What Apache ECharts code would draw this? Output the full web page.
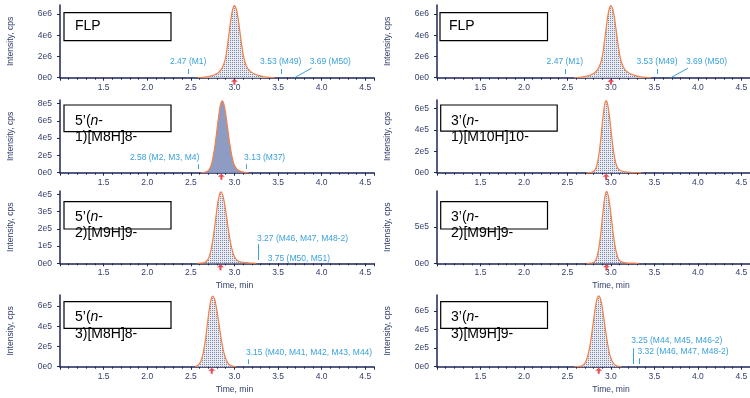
<!DOCTYPE html>
<html>
<head>
<meta charset="utf-8">
<script src="https://cdn.jsdelivr.net/npm/echarts@6/dist/echarts.min.js"></script>
<style>
html, body { margin: 0; padding: 0; background: #fff; }
#chart { width: 750px; height: 398px; }
</style>
</head>
<body>
<div id="chart"></div>
<script>
// time axis, min
var timeMin = 1.0, timeMax = 4.6, timeStep = 0.5;

// FLP (same trace in both top panels)
var flpTime = [2.58, 2.64, 2.70, 2.75, 2.79, 2.82, 2.84, 2.86, 2.88, 2.90, 2.92, 2.94, 2.96, 2.98, 3.00,
    3.02, 3.04, 3.06, 3.08, 3.10, 3.12, 3.14, 3.16, 3.19, 3.23, 3.28, 3.34, 3.40, 3.46];
var flpInt = [0, 0.04e6, 0.10e6, 0.20e6, 0.35e6, 0.52e6, 0.70e6, 0.95e6, 1.35e6, 1.95e6, 3.05e6, 4.30e6, 5.55e6, 6.45e6, 6.80e6,
    6.50e6, 5.70e6, 4.50e6, 3.25e6, 2.20e6, 1.50e6, 1.05e6, 0.78e6, 0.55e6, 0.35e6, 0.20e6, 0.09e6, 0.03e6, 0];

// 5'(n-1)[M8H]8-
var n1m5Time = [2.62, 2.66, 2.70, 2.72, 2.74, 2.76, 2.78, 2.80, 2.82, 2.84, 2.86, 2.88, 2.90, 2.92, 2.94,
    2.96, 2.98, 3.00, 3.03, 3.07, 3.12, 3.16];
var n1m5Int = [0, 0.05e5, 0.24e5, 0.55e5, 1.1e5, 2.1e5, 3.4e5, 5.0e5, 6.6e5, 7.85e5, 8.3e5, 7.9e5, 6.8e5, 5.3e5, 3.8e5,
    2.5e5, 1.5e5, 0.85e5, 0.4e5, 0.15e5, 0.04e5, 0];

// 5'(n-2)[M9H]9-
var n2m5Time = [2.58, 2.64, 2.68, 2.71, 2.74, 2.77, 2.79, 2.81, 2.83, 2.845, 2.86, 2.88, 2.90, 2.92, 2.94,
    2.97, 3.00, 3.04, 3.09, 3.16, 3.25];
var n2m5Int = [0, 0.02e5, 0.12e5, 0.39e5, 0.99e5, 2.0e5, 2.8e5, 3.54e5, 4.03e5, 4.15e5, 4.05e5, 3.66e5, 3.05e5, 2.34e5, 1.65e5,
    0.85e5, 0.38e5, 0.14e5, 0.06e5, 0.03e5, 0];

// 5'(n-3)[M8H]8-
var n3m5Time = [2.55, 2.57, 2.59, 2.61, 2.63, 2.65, 2.67, 2.69, 2.71, 2.73, 2.75, 2.77, 2.79, 2.81, 2.83,
    2.85, 2.87, 2.89, 2.92, 2.95, 2.99, 3.02];
var n3m5Int = [0, 0.08e5, 0.2e5, 0.46e5, 0.95e5, 1.75e5, 2.85e5, 4.25e5, 5.6e5, 6.6e5, 7.0e5, 6.75e5, 6.0e5, 4.95e5, 3.8e5,
    2.65e5, 1.75e5, 1.05e5, 0.43e5, 0.15e5, 0.03e5, 0];

// 3'(n-1)[M10H]10-
var n1m3Time = [2.72, 2.78, 2.81, 2.83, 2.85, 2.87, 2.89, 2.91, 2.93, 2.945, 2.96, 2.98, 3.00, 3.02, 3.04,
    3.06, 3.08, 3.11, 3.16, 3.24, 3.35];
var n1m3Int = [0, 0.03e5, 0.18e5, 0.48e5, 1.11e5, 2.19e5, 3.69e5, 5.29e5, 6.45e5, 6.75e5, 6.5e5, 5.51e5, 4.1e5, 2.67e5, 1.52e5,
    0.8e5, 0.4e5, 0.2e5, 0.08e5, 0.02e5, 0];

// 3'(n-2)[M9H]9-
var n2m3Time = [2.72, 2.78, 2.81, 2.83, 2.85, 2.87, 2.89, 2.91, 2.93, 2.95, 2.97, 2.99, 3.01, 3.03, 3.05,
    3.07, 3.09, 3.12, 3.17, 3.24, 3.32];
var n2m3Int = [0, 0.04e5, 0.2e5, 0.55e5, 1.35e5, 2.8e5, 4.8e5, 7.2e5, 9.1e5, 9.9e5, 9.3e5, 7.8e5, 5.8e5, 3.8e5, 2.25e5,
    1.15e5, 0.55e5, 0.2e5, 0.07e5, 0.02e5, 0];

// 3'(n-3)[M9H]9-
var n3m3Time = [2.58, 2.63, 2.67, 2.70, 2.72, 2.74, 2.76, 2.78, 2.80, 2.82, 2.84, 2.86, 2.88, 2.90, 2.92,
    2.94, 2.96, 2.98, 3.00, 3.02, 3.05, 3.09, 3.12];
var n3m3Int = [0, 0.02e5, 0.1e5, 0.35e5, 0.75e5, 1.4e5, 2.3e5, 3.55e5, 4.95e5, 6.3e5, 7.25e5, 7.6e5, 7.3e5, 6.4e5, 5.15e5,
    3.8e5, 2.6e5, 1.6e5, 0.95e5, 0.5e5, 0.16e5, 0.03e5, 0];

// panel order: left column top to bottom, then right column
var traceTimes = [flpTime, n1m5Time, n2m5Time, n3m5Time, flpTime, n1m3Time, n2m3Time, n3m3Time];
var traceInts = [flpInt, n1m5Int, n2m5Int, n3m5Int, flpInt, n1m3Int, n2m3Int, n3m3Int];
var apexTimes = [3.00, 2.85, 2.84, 2.74, 3.00, 2.945, 2.95, 2.86];
var yMax = [6.85e6, 8.4e5, 4.2e5, 7.1e5, 6.85e6, 6.8e5, 9.95e5, 7.7e5];
var yStep = [2e6, 2e5, 1e5, 2e5, 2e6, 2e5, 5e5, 2e5];
var panelNames = [
    'FLP',
    '5\u2019({i|n}-\n1)[M8H]8-',
    '5\u2019({i|n}-\n2)[M9H]9-',
    '5\u2019({i|n}-\n3)[M8H]8-',
    'FLP',
    '3\u2019({i|n}-\n1)[M10H]10-',
    '3\u2019({i|n}-\n2)[M9H]9-',
    '3\u2019({i|n}-\n3)[M9H]9-'
];
var noteTimes = [[2.47, 3.53, 3.69], [2.58, 3.13], [3.27, 3.75], [3.15], [2.47, 3.53, 3.69], [], [], [3.25, 3.32]];
var noteLabels = [
    ['2.47 (M1)', '3.53 (M49)', '3.69 (M50)'],
    ['2.58 (M2, M3, M4)', '3.13 (M37)'],
    ['3.27 (M46, M47, M48-2)', '3.75 (M50, M51)'],
    ['3.15 (M40, M41, M42, M43, M44)'],
    ['2.47 (M1)', '3.53 (M49)', '3.69 (M50)'],
    [], [],
    ['3.25 (M44, M45, M46-2)', '3.32 (M46, M47, M48-2)']
];

// layout
var colLeft = [60, 437], colWidth = [314, 313];
var rowTop = [5, 100, 191, 295], rowHeight = [72.7, 72.7, 72.3, 71.7];
var boxRect = [[64, 12.7, 107, 28], [64, 105, 107, 26.7], [64, 201.7, 107, 27.3], [64, 301.7, 107, 26.7],
    [440, 12.7, 107.5, 28], [440.7, 105, 116.5, 26.2], [440.7, 201.7, 106.8, 27.3], [440.7, 301.7, 106.8, 26.7]];
var boxText = [[75, 26.5], [75, 121], [75, 216.7], [75, 317.3], [449, 26.5], [451, 121], [451, 216.7], [451, 317.3]];
var tickNote = {tick: 5, gap: 3.7, dx: 0, dy: -16, align: 'center'};
var noteStyle = [
    [tickNote, tickNote, {tick: 0, leader: [17, -9.5], dx: 15, dy: -16, align: 'left'}],
    [{tick: 4.7, gap: 3.7, dx: 1.5, dy: -15.4, align: 'right'}, {tick: 4.7, gap: 3.7, dx: -1.7, dy: -15.4, align: 'left'}],
    [{tick: 16, gap: 3.3, dx: -1, dy: -25, align: 'left'}, {tick: 0, dx: -1, dy: -5, align: 'center'}],
    [{tick: 4.7, gap: 2.7, dx: -1.5, dy: -14.4, align: 'left'}],
    [tickNote, tickNote, {tick: 0, leader: [17, -9.5], dx: 15, dy: -16, align: 'left'}],
    [], [],
    [{tick: 15.7, gap: 2.7, dx: -1.5, dy: -25.7, align: 'left'}, {tick: 5.7, gap: 2.7, dx: -1.3, dy: -15, align: 'left'}]
];

var axisColor = '#1c2557';
var labelColor = '#34406c';
var noteColor = '#3aa1da';
var peakColor = '#f2814a';
var fontFam = '"Liberation Sans", Arial, sans-serif';

// dotted fill like the instrument software
var pc = document.createElement('canvas');
pc.width = 2; pc.height = 2;
var pctx = pc.getContext('2d');
pctx.fillStyle = '#e8eaf1';
pctx.fillRect(0, 0, 2, 2);
pctx.fillStyle = '#7d87a6';
pctx.fillRect(0, 0, 1, 1);
var dotFill = {image: pc, repeat: 'repeat'};

function sci(v) {
    if (v === 0) return '0e0';
    var e = Math.floor(Math.log10(v) + 1e-9);
    var m = Math.round(v / Math.pow(10, e) * 10) / 10;
    return m + 'e' + e;
}

function noteRender(idx) {
    return function (params, api) {
        var p = api.coord([api.value(0), 0]);
        var s = noteStyle[idx][params.dataIndex];
        var x = Math.round(p[0]) + 0.5;
        var kids = [];
        if (s.tick) {
            kids.push({type: 'line', shape: {x1: x, y1: p[1] - s.gap, x2: x, y2: p[1] - s.gap - s.tick},
                style: {stroke: noteColor, lineWidth: 1}});
        }
        if (s.leader) {
            kids.push({type: 'line', shape: {x1: p[0], y1: p[1], x2: p[0] + s.leader[0], y2: p[1] + s.leader[1]},
                style: {stroke: noteColor, lineWidth: 1}});
        }
        kids.push({type: 'text', x: p[0] + s.dx, y: p[1] + s.dy,
            style: {text: noteLabels[idx][params.dataIndex], fill: noteColor, fontSize: 8.5, fontFamily: fontFam,
                align: s.align, verticalAlign: 'middle'}});
        return {type: 'group', children: kids};
    };
}

var grids = [], xAxes = [], yAxes = [], series = [], graphics = [];
for (var i = 0; i < 8; i++) {
    var col = Math.floor(i / 4), row = i % 4;
    grids.push({left: colLeft[col], top: rowTop[row], width: colWidth[col], height: rowHeight[row],
        containLabel: false, outerBoundsMode: 'none'});
    xAxes.push({
        type: 'value', gridIndex: i, min: timeMin, max: timeMax, interval: timeStep,
        axisLine: {onZero: false, lineStyle: {color: axisColor, width: 1.5}},
        axisTick: {length: 3, lineStyle: {color: axisColor}},
        minorTick: {show: true, splitNumber: 5, length: 2, lineStyle: {color: axisColor}},
        splitLine: {show: false},
        axisLabel: {margin: 5, fontSize: 8.5, fontFamily: fontFam, color: labelColor,
            showMinLabel: false, showMaxLabel: false,
            formatter: function (v) { return v.toFixed(1); }},
        name: row >= 2 ? 'Time, min' : '', nameLocation: 'middle', nameGap: 18,
        nameTextStyle: {fontSize: 8.6, fontFamily: fontFam, color: labelColor, padding: [0, 0, 0, 35]}
    });
    yAxes.push({
        type: 'value', gridIndex: i, min: 0, max: yMax[i], interval: yStep[i],
        axisLine: {show: true, lineStyle: {color: axisColor, width: 1.5}},
        axisTick: {show: true, length: 3, lineStyle: {color: axisColor}},
        splitLine: {show: false},
        axisLabel: {margin: 8, fontSize: 8.5, fontFamily: fontFam, color: labelColor,
            showMaxLabel: false, formatter: sci},
        name: 'Intensity, cps', nameLocation: 'middle', nameGap: 45, nameRotate: 90,
        nameTextStyle: {fontSize: 8.6, fontFamily: fontFam, color: labelColor}
    });

    var pts = traceTimes[i].map(function (t, k) { return [t, traceInts[i][k]]; });
    series.push({
        type: 'line', xAxisIndex: i, yAxisIndex: i, data: pts, smooth: 0.3,
        showSymbol: false, symbol: 'none', silent: true,
        lineStyle: {color: peakColor, width: 1.2},
        areaStyle: {color: i === 1 ? '#8e9cc3' : dotFill, opacity: 1}
    });
    series.push({
        type: 'scatter', xAxisIndex: i, yAxisIndex: i, data: [[apexTimes[i], 0]],
        symbol: 'path://M5,0 L10,5 L6.5,5 L6.5,10 L3.5,10 L3.5,5 L0,5 Z',
        symbolSize: [7, 6], symbolOffset: [0, 4], itemStyle: {color: '#e3202a'}, z: 5
    });
    if (noteTimes[i].length) {
        series.push({
            type: 'custom', xAxisIndex: i, yAxisIndex: i, z: 6,
            data: noteTimes[i].map(function (t) { return [t, 0]; }),
            renderItem: noteRender(i)
        });
    }

    var b = boxRect[i];
    graphics.push({type: 'rect', shape: {x: b[0], y: b[1], width: b[2], height: b[3]},
        style: {fill: '#fff', stroke: '#000', lineWidth: 1.2}, z: 10});
    graphics.push({type: 'text', x: boxText[i][0], y: boxText[i][1] - 8.3, z: 11,
        style: {text: panelNames[i], fill: '#000', fontSize: 14, fontFamily: fontFam, lineHeight: 16.6,
            verticalAlign: 'top',
            rich: {i: {fontStyle: 'italic', fontSize: 14, fontFamily: fontFam, lineHeight: 16.6, fill: '#000'}}}});
}

var myChart = echarts.init(document.getElementById('chart'));
myChart.setOption({
    animation: false,
    backgroundColor: '#fff',
    grid: grids,
    xAxis: xAxes,
    yAxis: yAxes,
    series: series,
    graphic: graphics
});
</script>
</body>
</html>
